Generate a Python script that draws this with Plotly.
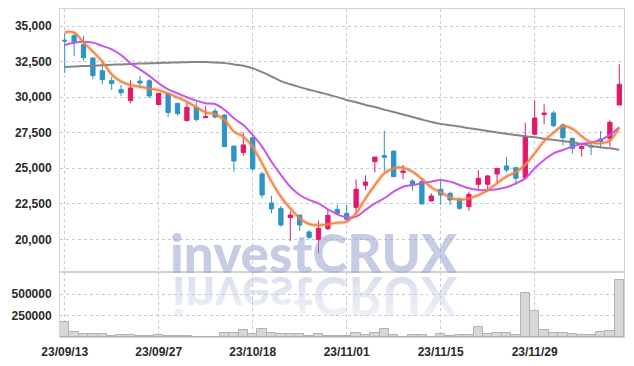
import base64
import plotly.graph_objects as go
from plotly.subplots import make_subplots

dates = ["23/09/13", "23/09/14", "23/09/15", "23/09/18", "23/09/19", "23/09/20", "23/09/21", "23/09/22",
         "23/09/25", "23/09/26", "23/09/27", "23/10/04", "23/10/05", "23/10/06", "23/10/10", "23/10/11",
         "23/10/12", "23/10/13", "23/10/16", "23/10/17", "23/10/18", "23/10/19", "23/10/20", "23/10/23",
         "23/10/24", "23/10/25", "23/10/26", "23/10/27", "23/10/30", "23/10/31", "23/11/01", "23/11/02",
         "23/11/03", "23/11/06", "23/11/07", "23/11/08", "23/11/09", "23/11/10", "23/11/13", "23/11/14",
         "23/11/15", "23/11/16", "23/11/17", "23/11/20", "23/11/21", "23/11/22", "23/11/23", "23/11/24",
         "23/11/27", "23/11/28", "23/11/29", "23/11/30", "23/12/01", "23/12/04", "23/12/05", "23/12/06",
         "23/12/07", "23/12/08", "23/12/11", "23/12/12"]

opens = [34000, 34320, 33690, 32750, 31860, 31160, 30530, 29750, 31130, 31150,
         29480, 30270, 29560, 28350, 29280, 28560, 29020, 28740, 26560, 26100,
         27150, 24600, 22560, 22180, 21530, 21710, 20520, 19980, 20750, 22110,
         21830, 22250, 23800, 25460, 25890, 26210, 24690, 24100, 24060, 22700,
         23520, 23240, 22840, 22300, 23870, 23870, 24600, 25160, 25040, 24340,
         27390, 28770, 28880, 28040, 27100, 26380, 26590, 27060, 27100, 29450]
highs = [34490, 34490, 34320, 32800, 32520, 31440, 30850, 31180, 31490, 31250,
         30300, 30300, 29620, 29610, 29700, 29400, 29210, 28790, 26560, 27500,
         27150, 24760, 23050, 22350, 21990, 21710, 20640, 21320, 22070, 22420,
         22420, 24220, 24500, 25790, 27640, 26210, 25230, 24220, 24290, 23240,
         24170, 23350, 22930, 23350, 24880, 24530, 24990, 25790, 25110, 28200,
         29760, 29490, 29030, 28160, 27150, 26800, 26870, 27620, 28370, 32310]
lows = [31700, 32890, 32560, 31250, 30900, 30500, 30080, 29570, 30620, 29920,
        29440, 28580, 28700, 28280, 28280, 28560, 28510, 26500, 24760, 25890,
        24810, 22890, 21830, 20890, 19890, 20590, 20000, 19020, 20660, 21710,
        21250, 21880, 23470, 24710, 24760, 24410, 24220, 23430, 22490, 22650,
        22420, 22420, 22070, 22000, 23400, 23350, 24010, 24710, 23820, 24340,
        27390, 28090, 27900, 26590, 26000, 25820, 25930, 26400, 26520, 29450]
closes = [33950, 33880, 32770, 31510, 31230, 30950, 30310, 30640, 30990, 30080,
          30270, 28910, 28840, 29280, 28420, 28630, 28600, 26520, 25510, 26640,
          24950, 23120, 22140, 21010, 21710, 21010, 20150, 20780, 21690, 21830,
          21410, 23520, 24030, 25790, 25770, 24410, 24810, 23820, 22490, 23050,
          23120, 22770, 22180, 23170, 24290, 24460, 24990, 24880, 24290, 27220,
          28530, 28880, 27990, 27150, 26400, 26520, 26490, 26870, 28230, 30900]

volumes = [173000, 58000, 35000, 35000, 35000, 12000, 23000, 23000, 12000, 12000,
           23000, 12000, 12000, 12000, 5000, 5000, 5000, 50000, 50000, 81000,
           35000, 92000, 46000, 35000, 35000, 35000, 12000, 35000, 15000, 15000,
           6000, 46000, 27000, 46000, 92000, 23000, 5000, 19000, 23000, 5000,
           35000, 15000, 23000, 23000, 115000, 35000, 46000, 46000, 27000, 508000,
           300000, 81000, 46000, 46000, 35000, 19000, 27000, 58000, 73000, 665000]

ma_short = [34560, 34540, 33850, 33200, 32500, 31600, 31100, 30850, 30730, 30600,
            30480, 30250, 29980, 29680, 29300, 28920, 28800, 28400, 27580, 27220,
            26480, 25350, 24060, 23000, 22180, 21480, 21080, 20990, 21060, 21170,
            21240, 21830, 22880, 23820, 24640, 25000, 25040, 24750, 24250, 23650,
            23300, 22950, 22780, 22870, 23110, 23450, 23950, 24420, 24720, 25250,
            26050, 26900, 27500, 27960, 27780, 27250, 26830, 26740, 26950, 27850]
ma_mid = [33660, 33820, 33900, 33830, 33600, 33360, 32960, 32380, 31950, 31490,
          30970, 30550, 30270, 29990, 29750, 29570, 29520, 29100, 28510, 28040,
          27340, 26520, 25460, 24530, 23700, 23120, 22770, 22530, 22110, 21760,
          21550, 21600, 22070, 22530, 22890, 23350, 23700, 23820, 23940, 24060,
          24170, 24060, 23820, 23590, 23470, 23470, 23520, 23660, 23940, 24290,
          25000, 25580, 26050, 26280, 26520, 26700, 26800, 26990, 27340, 27880]
ma_long = [32120, 32150, 32180, 32210, 32240, 32270, 32300, 32330, 32355, 32375,
           32400, 32420, 32440, 32455, 32465, 32470, 32440, 32390, 32300, 32200,
           32030, 31760, 31450, 31130, 30900, 30700, 30520, 30360, 30180, 30000,
           29800, 29640, 29450, 29300, 29120, 28950, 28780, 28600, 28420, 28250,
           28120, 28020, 27930, 27820, 27720, 27620, 27520, 27420, 27330, 27250,
           27180, 27080, 27000, 26920, 26820, 26700, 26570, 26480, 26400, 26290]

tick_dates = ["23/09/13", "23/09/27", "23/10/18", "23/11/01", "23/11/15", "23/11/29"]
price_ticks = [20000, 22500, 25000, 27500, 30000, 32500, 35000]
volume_ticks = [250000, 500000]
watermark = "investCRUX"

RED = "#E2196B"
BLUE = "#2F93C6"
GRID = "#c6cadc"
BORDER = "#d2d2d2"
TICKFONT = dict(family="Liberation Sans", size=12, color="#2a2a2a", weight="bold")

fig = make_subplots(rows=2, cols=1, shared_xaxes=True, vertical_spacing=0,
                    row_heights=[0.8018, 0.1982])

fig.add_trace(go.Candlestick(
    x=dates, open=opens, high=highs, low=lows, close=closes,
    increasing=dict(line=dict(color=RED, width=1), fillcolor=RED),
    decreasing=dict(line=dict(color=BLUE, width=1), fillcolor=BLUE),
    whiskerwidth=0, hoverinfo="skip"), row=1, col=1)

fig.add_trace(go.Scatter(x=dates, y=ma_long, mode="lines",
                         line=dict(color="#858585", width=2, shape="spline")), row=1, col=1)
fig.add_trace(go.Scatter(x=dates, y=ma_mid, mode="lines",
                         line=dict(color="#C755EC", width=2, shape="spline")), row=1, col=1)
fig.add_trace(go.Scatter(x=dates, y=ma_short, mode="lines",
                         line=dict(color="rgba(240,130,60,0.35)", width=4, shape="spline")), row=1, col=1)
fig.add_trace(go.Scatter(x=dates, y=ma_short, mode="lines",
                         line=dict(color="#EE8443", width=1.6, shape="spline")), row=1, col=1)

fig.add_trace(go.Bar(x=dates, y=volumes,
                     marker=dict(color="#d7d7d7", line=dict(color="#b3b3b3", width=1))),
              row=2, col=1)

axis_common = dict(type="category", categoryorder="array", categoryarray=dates,
                   range=[-0.5, len(dates) - 0.5], tickvals=tick_dates,
                   showgrid=True, gridcolor=GRID, griddash="dot", gridwidth=1,
                   showline=True, linecolor=BORDER, linewidth=1, mirror=True,
                   ticks="outside", ticklen=4, tickcolor="rgba(0,0,0,0)",
                   tickfont=TICKFONT, automargin=False)
fig.update_xaxes(**axis_common)
fig.update_xaxes(showticklabels=False, rangeslider_visible=False, row=1, col=1)
fig.update_xaxes(showticklabels=True, row=2, col=1)

yaxis_common = dict(showgrid=True, gridcolor=GRID, griddash="dot", gridwidth=1,
                    zeroline=False, showline=True, linecolor=BORDER, linewidth=1, mirror=True,
                    ticks="outside", ticklen=5, tickcolor="rgba(0,0,0,0)",
                    tickfont=TICKFONT, automargin=False)
fig.update_yaxes(**yaxis_common)
fig.update_yaxes(range=[17706, 36195], tickvals=price_ticks, tickformat=",", row=1, col=1)
fig.update_yaxes(range=[0, 756000], tickvals=volume_ticks, tickformat="d", row=2, col=1)

# reflection of the watermark (mirrored text in an SVG)
FS = 53
W, H = 330, 58
svg = f"""<svg xmlns='http://www.w3.org/2000/svg' width='{W}' height='{H}' viewBox='0 0 {W} {H}'>
<defs><linearGradient id='g' gradientUnits='userSpaceOnUse' x1='0' y1='0' x2='0' y2='-42'>
<stop offset='0' stop-color='rgb(150,162,205)' stop-opacity='0.34'/>
<stop offset='1' stop-color='rgb(150,162,205)' stop-opacity='0.14'/></linearGradient></defs>
<text transform='translate(0,2) scale(1,-1)' x='{W/2}' y='0' text-anchor='middle'
 font-family='Lato' font-weight='bold' font-size='{FS}' fill='url(#g)'>{watermark}</text></svg>"""
src = "data:image/svg+xml;base64," + base64.b64encode(svg.encode()).decode()

fig.update_layout(
    width=626, height=350,
    margin=dict(l=52, r=10, t=1, b=21),
    showlegend=False,
    paper_bgcolor="white", plot_bgcolor="rgba(0,0,0,0)",
    bargap=0, boxgap=0.35,
    images=[dict(source=src, xref="paper", yref="paper", x=0.451, y=0.189,
                 xanchor="center", yanchor="top", sizex=W / 564, sizey=H / 328,
                 sizing="stretch", layer="below")],
    annotations=[dict(text=watermark, xref="paper", yref="paper", x=0.451, y=0.157,
                      xanchor="center", yanchor="bottom", showarrow=False,
                      font=dict(family="Lato", size=FS, weight=900,
                                color="rgba(150,162,205,0.55)"))],
)

fig.write_html("out.html")
